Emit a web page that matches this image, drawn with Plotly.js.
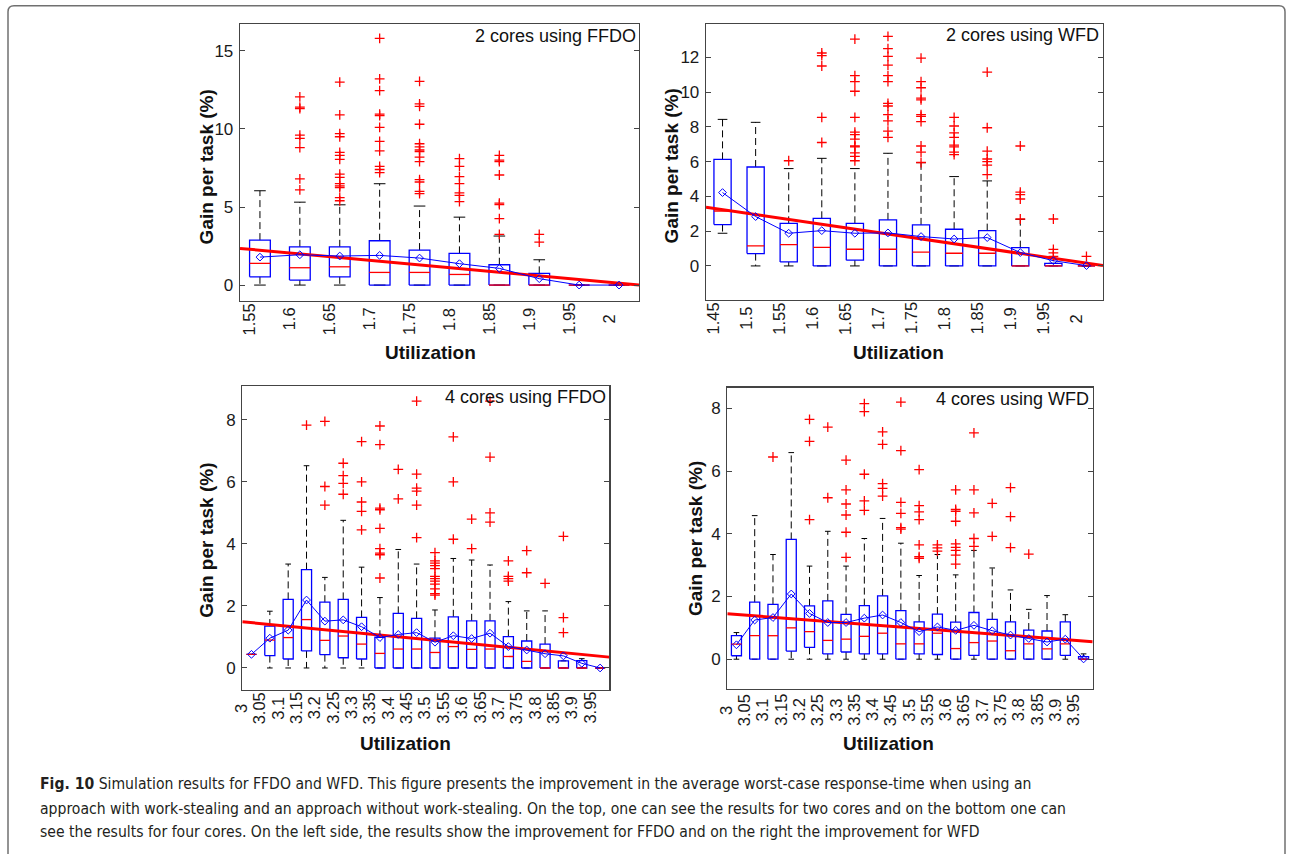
<!DOCTYPE html>
<html><head><meta charset="utf-8">
<script src="https://cdn.plot.ly/plotly-3.0.1.min.js"></script>
<style>html,body{margin:0;padding:0;background:#fff}#chart{width:1292px;height:854px}</style>
</head><body><div id="chart"></div>
<script>
// ---------- Panel 1: 2 cores using FFDO ----------
const tlCategories = ['1.55','1.6','1.65','1.7','1.75','1.8','1.85','1.9','1.95','2'];
const tlQ1     = [0.53, 0.32, 0.53, 0, 0, 0, 0, 0, 0, 0];
const tlMedian = [1.39, 1.11, 1.17, 0.81, 0.81, 0.68, 0, 0, 0, 0];
const tlQ3     = [2.88, 2.45, 2.45, 2.84, 2.24, 2.03, 1.30, 0.75, 0, 0];
const tlLower  = [0, 0, 0, 0, 0, 0, 0, 0, 0, 0];
const tlUpper  = [6.04, 5.31, 5.14, 6.49, 5.06, 4.35, 3.14, 1.62, 0, 0];
const tlMean   = [1.79, 1.94, 1.86, 1.90, 1.73, 1.37, 1.07, 0.41, 0, 0];
const tlOutliers = [
  [],
  [12.05, 11.4, 11.3, 9.6, 9.4, 8.8, 6.8, 6.1],
  [13.0, 10.9, 9.7, 9.5, 8.5, 8.3, 8.05, 7.1, 6.9, 6.5, 6.35, 6.25, 5.6, 5.4],
  [15.8, 13.2, 12.45, 10.95, 10.85, 10.1, 9.2, 8.6, 7.6, 7.4, 7.2],
  [13.05, 11.6, 11.45, 10.3, 9.05, 8.85, 8.65, 8.55, 8.2, 7.9, 6.75, 6.6, 6.0, 5.85],
  [8.1, 7.6, 6.95, 6.5, 5.9, 5.75, 5.35],
  [8.3, 8.0, 7.9, 7.05, 5.25, 5.15, 4.25, 3.25],
  [3.25, 2.75],
  [],
  []
];
const tlTrend = [2.35, 0.0];

// ---------- Panel 2: 2 cores using WFD ----------
const trCategories = ['1.45','1.5','1.55','1.6','1.65','1.7','1.75','1.8','1.85','1.9','1.95','2'];
const trQ1     = [2.38, 0.71, 0.23, 0, 0.33, 0, 0, 0, 0, 0, 0, 0];
const trMedian = [3.16, 1.15, 1.23, 1.07, 0.96, 0.96, 0.79, 0.73, 0.73, 0, 0, 0];
const trQ3     = [6.13, 5.69, 2.45, 2.74, 2.45, 2.65, 2.36, 2.11, 2.03, 1.05, 0.15, 0];
const trLower  = [1.88, 0, 0, 0, 0, 0, 0, 0, 0, 0, 0, 0];
const trUpper  = [8.43, 8.26, 5.6, 6.19, 5.6, 6.48, 5.94, 5.14, 4.89, 2.68, 0.15, 0];
const trMean   = [4.22, 2.84, 1.88, 2.03, 1.88, 1.90, 1.69, 1.55, 1.63, 0.77, 0.30, 0.02];
const trOutliers = [
  [],
  [],
  [6.05],
  [12.25, 12.1, 11.5, 8.55, 7.1],
  [13.05, 10.95, 10.6, 10.05, 8.55, 7.7, 7.55, 7.3, 6.9, 6.85, 6.5, 6.3, 6.05],
  [13.2, 12.5, 12.05, 11.55, 10.95, 10.6, 9.35, 9.2, 8.7, 8.35, 7.75, 7.4],
  [11.95, 10.6, 10.25, 9.65, 9.55, 8.7, 8.6, 8.3, 6.9, 6.55, 5.95],
  [8.55, 8.05, 7.65, 7.4, 6.95, 6.85, 6.55, 6.4],
  [11.15, 7.95, 6.6, 6.15, 6.0, 5.8, 5.25],
  [6.9, 4.25, 4.1, 3.85, 2.7],
  [2.7, 0.95, 0.75, 0.55],
  [0.55]
];
const trTrend = [3.37, 0.02];

// ---------- Panel 3: 4 cores using FFDO ----------
const blCategories = ['3','3.05','3.1','3.15','3.2','3.25','3.3','3.35','3.4','3.45','3.5','3.55','3.6','3.65','3.7','3.75','3.8','3.85','3.9','3.95'];
const blQ1     = [0.44, 0.40, 0.29, 0.55, 0.43, 0.33, 0.29, 0, 0, 0, 0, 0, 0, 0, 0, 0, 0, 0, 0, 0];
const blMedian = [0.44, 0.90, 0.98, 1.56, 0.89, 1.03, 0.77, 0.47, 0.61, 0.61, 0.50, 0.69, 0.60, 0.61, 0.37, 0.21, 0, 0, 0, 0];
const blQ3     = [0.44, 1.35, 2.21, 3.17, 2.12, 2.21, 1.63, 0.99, 1.76, 1.60, 0.96, 1.65, 1.52, 1.52, 1.01, 0.87, 0.77, 0.23, 0.24, 0];
const blLower  = [0.44, 0, 0, 0, 0, 0, 0, 0, 0, 0, 0, 0, 0, 0, 0, 0, 0, 0, 0, 0];
const blUpper  = [0.44, 1.83, 3.35, 6.52, 2.92, 4.76, 3.25, 2.27, 3.82, 3.35, 1.87, 3.53, 3.48, 3.32, 2.14, 1.84, 1.84, 0.23, 0.30, 0];
const blMean   = [0.44, 0.96, 1.22, 2.19, 1.51, 1.55, 1.33, 0.98, 1.08, 1.14, 0.83, 1.04, 0.95, 1.12, 0.69, 0.58, 0.46, 0.39, 0.15, 0];
const blOutliers = [
  [], [], [],
  [7.83],
  [7.95, 5.85, 5.25],
  [6.6, 6.2, 5.95, 5.6],
  [7.3, 6.0, 5.35, 5.05, 4.45],
  [7.8, 7.2, 5.15, 5.1, 4.5, 3.85, 3.7, 3.65, 2.9],
  [6.4, 5.45],
  [8.6, 6.25, 5.8, 5.7, 5.25, 4.2],
  [3.72, 3.45, 3.38, 3.3, 3.2, 2.95, 2.88, 2.8, 2.7, 2.55, 2.4, 2.35],
  [7.45, 6.0, 4.15],
  [4.8, 3.85],
  [8.6, 6.8, 5.0, 4.7],
  [3.45, 2.95, 2.88, 2.8],
  [3.78, 3.07],
  [2.73],
  [4.24, 1.62, 1.14],
  [], []
];
const blTrend = [1.49, 0.35];

// ---------- Panel 4: 4 cores using WFD ----------
const brCategories = ['3','3.05','3.1','3.15','3.2','3.25','3.3','3.35','3.4','3.45','3.5','3.55','3.6','3.65','3.7','3.75','3.8','3.85','3.9','3.95'];
const brQ1     = [0.11, 0, 0, 0.26, 0.38, 0.17, 0.23, 0.17, 0.17, 0, 0.17, 0.15, 0, 0.12, 0, 0, 0, 0, 0.12, 0];
const brMedian = [0.48, 0.75, 0.75, 1.00, 0.88, 0.60, 0.64, 0.73, 0.83, 0.49, 0.49, 0.83, 0.34, 0.53, 0.58, 0.27, 0.49, 0.33, 0.49, 0];
const brQ3     = [0.75, 1.82, 1.75, 3.82, 1.70, 1.86, 1.43, 1.71, 2.02, 1.55, 1.19, 1.44, 1.18, 1.49, 1.27, 1.19, 0.93, 0.90, 1.19, 0.08];
const brLower  = [0, 0, 0, 0, 0, 0, 0, 0, 0, 0, 0, 0, 0, 0, 0, 0, 0, 0, 0, 0];
const brUpper  = [0.85, 4.58, 3.34, 6.59, 2.97, 4.08, 2.97, 3.85, 4.49, 3.70, 2.67, 3.34, 2.69, 3.47, 2.91, 2.21, 1.59, 2.03, 1.42, 0.17];
const brMean   = [0.46, 1.25, 1.33, 2.08, 1.46, 1.17, 1.17, 1.31, 1.41, 1.17, 0.88, 1.03, 0.92, 1.08, 0.91, 0.77, 0.66, 0.55, 0.64, 0.01];
const brOutliers = [
  [], [],
  [6.45],
  [],
  [7.65, 6.95, 4.45],
  [7.4, 5.15],
  [6.35, 5.4, 4.95, 4.6, 4.05, 3.25],
  [8.15, 7.9, 5.9, 5.05, 4.75],
  [7.25, 6.85, 5.6, 5.45, 5.2],
  [8.2, 6.65, 5.0, 4.65, 4.2, 4.15],
  [6.05, 4.9, 4.7, 4.45, 3.65, 3.27, 3.22],
  [3.65, 3.55, 3.45],
  [5.4, 4.78, 4.72, 4.4, 3.68, 3.57, 3.47, 3.32, 3.03],
  [7.22, 5.4, 4.67, 3.85, 3.6],
  [4.97, 3.92],
  [5.47, 4.55, 3.56],
  [3.35],
  [], [], []
];
const brTrend = [1.45, 0.56];

const panelTitles = ['2 cores using FFDO', '2 cores using WFD', '4 cores using FFDO', '4 cores using WFD'];
const xTitle = 'Utilization';
const yTitle = 'Gain per task (%)';
const captionLines = [
  '<b>Fig. 10</b> Simulation results for FFDO and WFD. This figure presents the improvement in the average worst-case response-time when using an',
  'approach with work-stealing and an approach without work-stealing. On the top, one can see the results for two cores and on the bottom one can',
  'see the results for four cores. On the left side, the results show the improvement for FFDO and on the right the improvement for WFD'
];

// ---------- Layout geometry (pixels) ----------
const W = 1292, H = 854;
const PX = v => v / W;
const PY = v => 1 - v / H;
const FONT = 'Liberation Sans, Arial, Helvetica, sans-serif';
const BLUE = '#0000ff', RED = '#ff0000';

const panels = [
  {ax:'', cats:tlCategories, q1:tlQ1, med:tlMedian, q3:tlQ3, lo:tlLower, hi:tlUpper, mean:tlMean, out:tlOutliers, trend:tlTrend,
   box:{l:240, r:639, t:24.3, b:301}, yr:[-1.02, 16.7], dtick:5, bw:0.52,
   titlePos:[638, 36], xtPos:[430.5, 352], ytPos:[206.7, 166.7], labelY:319},
  {ax:'2', cats:trCategories, q1:trQ1, med:trMedian, q3:trQ3, lo:trLower, hi:trUpper, mean:trMean, out:trOutliers, trend:trTrend,
   box:{l:706, r:1103, t:24.3, b:300}, yr:[-1.96, 13.9], dtick:2, bw:0.52,
   titlePos:[1100.5, 35.5], xtPos:[898, 352], ytPos:[671.7, 165.7], labelY:318.5},
  {ax:'3', cats:blCategories, q1:blQ1, med:blMedian, q3:blQ3, lo:blLower, hi:blUpper, mean:blMean, out:blOutliers, trend:blTrend,
   box:{l:242.3, r:609.3, t:386, b:690}, yr:[-0.71, 9.09], dtick:2, bw:0.55,
   titlePos:[608.3, 397], xtPos:[405, 743.3], ytPos:[205.7, 540], labelY:708},
  {ax:'4', cats:brCategories, q1:brQ1, med:brMedian, q3:brQ3, lo:brLower, hi:brUpper, mean:brMean, out:brOutliers, trend:brTrend,
   box:{l:727.3, r:1092.7, t:387.7, b:689}, yr:[-0.95, 8.66], dtick:2, bw:0.55,
   titlePos:[1090.7, 399], xtPos:[888.7, 743.3], ytPos:[695, 539], labelY:710}
];

const traces = [];
const annotations = [];
const layout = {
  width: W, height: H,
  margin: {l:0, r:0, t:0, b:0, pad:0},
  paper_bgcolor: '#fff', plot_bgcolor: '#fff',
  showlegend: false,
  font: {family: FONT, color: '#1a1a1a'},
  annotations: annotations,
  shapes: []
};

panels.forEach((p, k) => {
  const xa = 'x' + p.ax, ya = 'y' + p.ax;
  const n = p.cats.length;
  const pos = p.cats.map((_, i) => i + 1);
  const hw = p.bw / 2, cw = p.bw * 0.28;

  // whiskers and caps
  const wx = [], wy = [], cx = [], cy = [];
  pos.forEach((x, i) => {
    if (p.hi[i] > p.q3[i]) { wx.push(x, x, null); wy.push(p.q3[i], p.hi[i], null); }
    if (p.lo[i] < p.q1[i]) { wx.push(x, x, null); wy.push(p.q1[i], p.lo[i], null); }
    cx.push(x - cw, x + cw, null); cy.push(p.hi[i], p.hi[i], null);
    cx.push(x - cw, x + cw, null); cy.push(p.lo[i], p.lo[i], null);
  });
  traces.push({type:'scatter', mode:'lines', xaxis:xa, yaxis:ya, x:wx, y:wy, hoverinfo:'skip',
    line:{color:'#000', width:1, dash:'7px,4px'}});
  traces.push({type:'scatter', mode:'lines', xaxis:xa, yaxis:ya, x:cx, y:cy, hoverinfo:'skip',
    line:{color:'#000', width:1}});

  // boxes
  const bx = [], by = [];
  pos.forEach((x, i) => {
    bx.push(x - hw, x + hw, x + hw, x - hw, x - hw, null);
    by.push(p.q1[i], p.q1[i], p.q3[i], p.q3[i], p.q1[i], null);
  });
  traces.push({type:'scatter', mode:'lines', xaxis:xa, yaxis:ya, x:bx, y:by, hoverinfo:'skip',
    line:{color:BLUE, width:1.3}});

  // medians
  const mx = [], my = [];
  pos.forEach((x, i) => { mx.push(x - hw, x + hw, null); my.push(p.med[i], p.med[i], null); });
  traces.push({type:'scatter', mode:'lines', xaxis:xa, yaxis:ya, x:mx, y:my, hoverinfo:'skip',
    line:{color:RED, width:1.3}});

  // outliers
  const ox = [], oy = [];
  p.out.forEach((arr, i) => arr.forEach(v => { ox.push(pos[i]); oy.push(v); }));
  traces.push({type:'scatter', mode:'markers', xaxis:xa, yaxis:ya, x:ox, y:oy,
    marker:{symbol:'cross-thin', size:7, color:RED, line:{color:RED, width:1.3}}});

  // regression line across the axis
  traces.push({type:'scatter', mode:'lines', xaxis:xa, yaxis:ya, x:[0.5, n + 0.5], y:p.trend,
    line:{color:RED, width:3}});

  // mean line
  traces.push({type:'scatter', mode:'lines+markers', xaxis:xa, yaxis:ya, x:pos, y:p.mean,
    line:{color:BLUE, width:1},
    marker:{symbol:'diamond-open', size:6, color:BLUE, line:{width:1}}});

  const xKey = 'xaxis' + p.ax, yKey = 'yaxis' + p.ax;
  layout[xKey] = {
    domain:[PX(p.box.l), PX(p.box.r)], anchor:ya, range:[0.5, n + 0.5],
    showticklabels:false, ticks:'', showgrid:false, zeroline:false,
    showline:true, mirror:true, linecolor:'#444', linewidth:1.3, fixedrange:true
  };
  layout[yKey] = {
    domain:[PY(p.box.b), PY(p.box.t)], anchor:xa, range:p.yr,
    tick0:0, dtick:p.dtick, ticks:'inside', ticklen:5, tickwidth:1, tickcolor:'#444',
    showgrid:false, zeroline:false, showline:true, mirror:'ticks', linecolor:'#444', linewidth:1.3,
    tickfont:{family:FONT, size:17, color:'#1a1a1a'}, ticklabelstandoff:2, fixedrange:true
  };

  // rotated, centred category labels
  p.cats.forEach((c, i) => {
    annotations.push({xref:xa, yref:'paper', x:pos[i], y:PY(p.labelY), xshift:-10.5,
      text:c, showarrow:false, textangle:-90, xanchor:'center', yanchor:'middle',
      font:{family:FONT, size:16.5, color:'#1a1a1a'}});
  });
  // panel title
  annotations.push({xref:'paper', yref:'paper', x:PX(p.titlePos[0]), y:PY(p.titlePos[1]),
    text:panelTitles[k], showarrow:false, xanchor:'right', yanchor:'middle',
    font:{family:FONT, size:18, color:'#111'}});
  // axis titles
  annotations.push({xref:'paper', yref:'paper', x:PX(p.xtPos[0]), y:PY(p.xtPos[1]),
    text:'<b>' + xTitle + '</b>', showarrow:false, xanchor:'center', yanchor:'middle',
    font:{family:FONT, size:19, color:'#111'}});
  annotations.push({xref:'paper', yref:'paper', x:PX(p.ytPos[0]), y:PY(p.ytPos[1]),
    text:'<b>' + yTitle + '</b>', showarrow:false, textangle:-90, xanchor:'center', yanchor:'middle',
    font:{family:FONT, size:19, color:'#111'}});
});

// caption
const capY = [784, 809, 832];
captionLines.forEach((t, i) => {
  annotations.push({xref:'paper', yref:'paper', x:PX(38), y:PY(capY[i]), text:t, showarrow:false,
    xanchor:'left', yanchor:'middle', align:'left',
    font:{family:'Liberation Sans Narrow, DejaVu Sans Condensed, Arial Narrow, sans-serif', size:15.6, color:'#231f20'}});
});

// outer frame with rounded top corners
(function(){
  const x0 = 8, x1 = 1285, y0 = 5.7, r = 6, yb = 900;
  const path = `M ${PX(x0)} ${PY(yb)} L ${PX(x0)} ${PY(y0 + r)} Q ${PX(x0)} ${PY(y0)} ${PX(x0 + r)} ${PY(y0)} ` +
               `L ${PX(x1 - r)} ${PY(y0)} Q ${PX(x1)} ${PY(y0)} ${PX(x1)} ${PY(y0 + r)} L ${PX(x1)} ${PY(yb)}`;
  layout.shapes.push({type:'path', xref:'paper', yref:'paper', path:path, line:{color:'#707070', width:1.5}});
})();

Plotly.newPlot('chart', traces, layout, {displayModeBar:false, staticPlot:true});
</script></body></html>
